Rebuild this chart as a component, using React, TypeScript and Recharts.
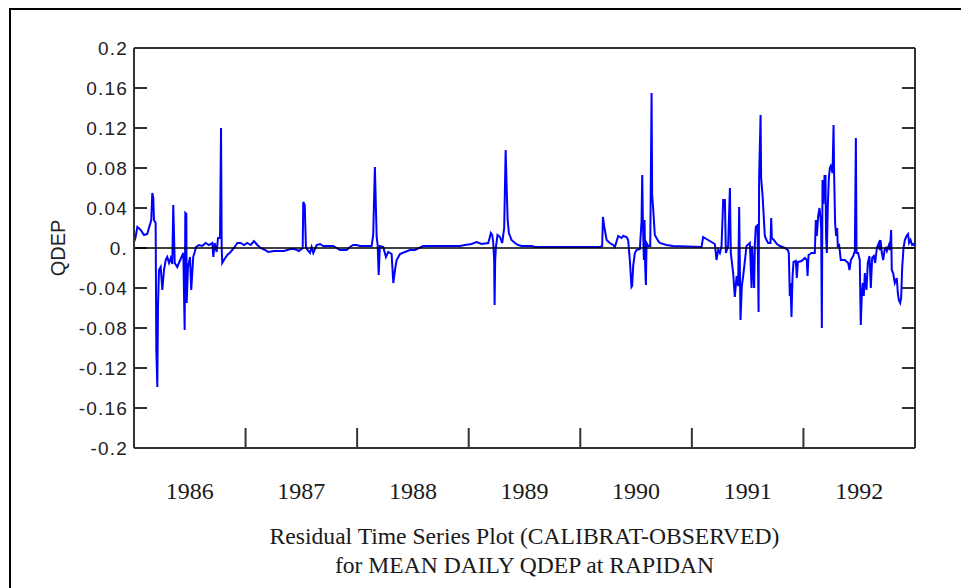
import React from 'react';
import { LineChart, Line, XAxis, YAxis, ReferenceLine } from 'recharts';

// residual (CALIBRAT - OBSERVED), [decimal year, QDEP]
const res1986: [number, number][] = [
  [1986.0, 0.006], [1986.013, 0.01], [1986.03, 0.021], [1986.06, 0.018], [1986.09, 0.013],
  [1986.119, 0.014], [1986.134, 0.02], [1986.155, 0.028], [1986.164, 0.055], [1986.173, 0.05],
  [1986.179, 0.028], [1986.194, 0.025], [1986.2, -0.102], [1986.209, -0.139], [1986.215, -0.059],
  [1986.224, -0.022], [1986.239, -0.019], [1986.254, -0.042], [1986.269, -0.022], [1986.284, -0.012],
  [1986.298, -0.009], [1986.314, -0.015], [1986.329, -0.01], [1986.343, -0.016], [1986.352, 0.043],
  [1986.358, 0.016], [1986.365, -0.015], [1986.388, -0.019], [1986.418, -0.011], [1986.442, -0.005],
  [1986.454, -0.082], [1986.46, 0.035], [1986.469, 0.034], [1986.472, -0.055], [1986.484, -0.019],
  [1986.502, -0.009], [1986.513, -0.042], [1986.531, -0.009], [1986.544, -0.004], [1986.556, 0.001],
  [1986.582, 0.003], [1986.612, 0.002], [1986.642, 0.005], [1986.672, 0.003], [1986.702, 0.005],
  [1986.711, -0.009], [1986.723, 0.005], [1986.741, -0.004], [1986.753, 0.01], [1986.771, 0.01],
  [1986.78, 0.12], [1986.786, 0.0], [1986.791, -0.015], [1986.806, -0.012], [1986.836, -0.007],
  [1986.866, -0.004], [1986.896, 0.0], [1986.926, 0.005], [1986.956, 0.005], [1986.986, 0.003],
];

const res1987: [number, number][] = [
  [1987.015, 0.005], [1987.046, 0.003], [1987.075, 0.007], [1987.105, 0.003], [1987.135, 0.0],
  [1987.174, -0.002], [1987.203, -0.004], [1987.254, -0.003], [1987.344, -0.003], [1987.404, -0.001],
  [1987.434, -0.001], [1987.461, -0.002], [1987.479, -0.003], [1987.512, 0.0], [1987.517, 0.046],
  [1987.53, 0.043], [1987.541, 0.001], [1987.562, -0.003], [1987.577, -0.005], [1987.592, 0.001],
  [1987.607, -0.005], [1987.637, 0.003], [1987.667, 0.004], [1987.696, 0.002], [1987.786, 0.002],
  [1987.816, 0.0], [1987.846, -0.002], [1987.906, -0.002], [1987.935, 0.001], [1987.965, 0.003],
  [1987.995, 0.003],
];

const res1988: [number, number][] = [
  [1988.025, 0.002], [1988.13, 0.002], [1988.144, 0.013], [1988.159, 0.081], [1988.175, 0.011],
  [1988.184, 0.003], [1988.193, -0.027], [1988.204, 0.002], [1988.234, 0.001], [1988.258, -0.009],
  [1988.279, -0.004], [1988.309, -0.006], [1988.324, -0.035], [1988.339, -0.022], [1988.354, -0.012],
  [1988.384, -0.006], [1988.428, -0.004], [1988.473, -0.002], [1988.518, -0.002], [1988.592, 0.002],
  [1988.712, 0.002], [1988.921, 0.002], [1988.966, 0.003],
];

const res1989: [number, number][] = [
  [1989.026, 0.004], [1989.071, 0.006], [1989.116, 0.004], [1989.175, 0.005], [1989.199, 0.015],
  [1989.211, 0.013], [1989.22, 0.005], [1989.228, -0.012], [1989.232, -0.057], [1989.237, -0.013],
  [1989.244, 0.001], [1989.258, 0.013], [1989.28, 0.011], [1989.3, 0.005], [1989.318, 0.02],
  [1989.331, 0.098], [1989.34, 0.061], [1989.349, 0.028], [1989.36, 0.015], [1989.384, 0.008],
  [1989.414, 0.005], [1989.444, 0.003], [1989.474, 0.002], [1989.564, 0.002], [1989.593, 0.001],
  [1989.746, 0.001], [1989.862, 0.001],
];

const res1990: [number, number][] = [
  [1990.104, 0.001], [1990.176, 0.001], [1990.196, 0.002], [1990.203, 0.031], [1990.214, 0.022],
  [1990.236, 0.008], [1990.265, 0.005], [1990.295, 0.003], [1990.31, 0.001], [1990.34, 0.012],
  [1990.37, 0.01], [1990.384, 0.012], [1990.415, 0.011], [1990.429, 0.008], [1990.444, -0.012],
  [1990.459, -0.039], [1990.465, -0.038], [1990.474, -0.018], [1990.489, -0.005], [1990.504, -0.002],
  [1990.534, -0.001], [1990.549, 0.027], [1990.555, 0.073], [1990.561, 0.028], [1990.57, -0.012],
  [1990.576, 0.028], [1990.582, -0.02], [1990.588, -0.037], [1990.594, 0.005], [1990.609, 0.002],
  [1990.627, 0.002], [1990.639, 0.155], [1990.644, 0.053], [1990.653, 0.04], [1990.668, 0.013],
  [1990.698, 0.007], [1990.713, 0.005], [1990.773, 0.003], [1990.832, 0.002],
];

const res1991: [number, number][] = [
  [1991.087, 0.001], [1991.101, 0.011], [1991.146, 0.008], [1991.191, 0.005], [1991.206, 0.004],
  [1991.221, -0.012], [1991.236, -0.002], [1991.251, -0.005], [1991.266, 0.002], [1991.281, 0.048],
  [1991.296, 0.048], [1991.305, -0.005], [1991.325, 0.002], [1991.341, 0.06], [1991.349, -0.005],
  [1991.37, -0.025], [1991.385, -0.049], [1991.401, -0.028], [1991.415, -0.038], [1991.424, 0.041],
  [1991.436, -0.072], [1991.448, -0.038], [1991.46, -0.028], [1991.49, 0.002], [1991.52, 0.005],
  [1991.535, -0.04], [1991.54, 0.002], [1991.558, -0.04], [1991.565, 0.005], [1991.573, 0.021],
  [1991.589, 0.023], [1991.598, -0.064], [1991.603, 0.071], [1991.616, 0.133], [1991.621, 0.07],
  [1991.634, 0.052], [1991.654, 0.012], [1991.669, 0.008], [1991.684, 0.005], [1991.705, 0.005],
  [1991.711, 0.03], [1991.717, 0.01], [1991.735, 0.008], [1991.762, 0.004], [1991.789, 0.002],
  [1991.833, 0.0], [1991.86, -0.002], [1991.869, -0.005], [1991.878, -0.048], [1991.884, -0.035],
  [1991.893, -0.069], [1991.902, -0.03], [1991.911, -0.014], [1991.932, -0.013], [1991.941, -0.03],
  [1991.95, -0.014], [1991.983, -0.013],
];

const res1992: [number, number][] = [
  [1992.013, -0.01], [1992.03, -0.012], [1992.037, -0.028], [1992.046, -0.007], [1992.073, -0.005],
  [1992.102, -0.005], [1992.111, 0.028], [1992.12, 0.012], [1992.132, 0.032], [1992.144, 0.04],
  [1992.153, 0.03], [1992.159, 0.02], [1992.165, -0.08], [1992.171, 0.068], [1992.18, 0.044],
  [1992.189, 0.072], [1992.198, 0.072], [1992.203, 0.01], [1992.21, -0.005], [1992.219, 0.044],
  [1992.228, 0.07], [1992.237, 0.08], [1992.245, 0.082], [1992.261, 0.075], [1992.27, 0.123],
  [1992.275, 0.075], [1992.284, 0.025], [1992.293, 0.012], [1992.302, 0.02], [1992.308, 0.002],
  [1992.32, 0.003], [1992.335, -0.012], [1992.371, -0.012], [1992.401, -0.015], [1992.413, -0.022],
  [1992.425, -0.012], [1992.446, -0.008], [1992.461, -0.003], [1992.47, 0.11], [1992.476, -0.005],
  [1992.49, -0.005], [1992.505, -0.012], [1992.514, -0.077], [1992.523, -0.047], [1992.532, -0.035],
  [1992.541, -0.048], [1992.55, -0.025], [1992.565, -0.042], [1992.577, -0.015], [1992.592, -0.008],
  [1992.604, -0.04], [1992.616, -0.01], [1992.631, -0.008], [1992.643, -0.015], [1992.658, 0.0],
  [1992.676, 0.005], [1992.685, -0.002], [1992.691, 0.008], [1992.7, -0.003], [1992.715, -0.012],
  [1992.727, -0.002], [1992.739, 0.0], [1992.748, -0.003], [1992.766, 0.003], [1992.775, -0.002],
  [1992.786, 0.018], [1992.792, -0.022], [1992.804, -0.025], [1992.819, -0.035], [1992.837, -0.03],
  [1992.846, -0.045], [1992.855, -0.052], [1992.867, -0.055], [1992.876, -0.05], [1992.885, -0.02],
  [1992.897, 0.0], [1992.909, 0.008], [1992.924, 0.012], [1992.938, 0.014], [1992.947, 0.005],
  [1992.96, 0.008], [1992.974, 0.003], [1992.987, 0.004], [1992.998, 0.002],
];

const yTicks = [0.2, 0.16, 0.12, 0.08, 0.04, 0, -0.04, -0.08, -0.12, -0.16, -0.2];
const yTickLabels = ['0.2', '0.16', '0.12', '0.08', '0.04', '0.', '-0.04', '-0.08', '-0.12', '-0.16', '-0.2'];
const yearBreaks = [1987, 1988, 1989, 1990, 1991, 1992];
const yearLabels = [1986, 1987, 1988, 1989, 1990, 1991, 1992];

const data = [...res1986, ...res1987, ...res1988, ...res1989, ...res1990, ...res1991, ...res1992].map(
  ([t, v]) => ({ t, v })
);

const xTicks = [...yearLabels.map((y) => y + 0.5), ...yearBreaks].sort((a, b) => a - b);

const axisColor = '#333';

const LeftTick = (props: any) => {
  const { x, y, payload } = props;
  const i = yTicks.indexOf(payload.value);
  return (
    <text
      x={x}
      y={y}
      textAnchor="end"
      dominantBaseline="central"
      fontFamily="'Liberation Sans', Arial, sans-serif"
      fontSize={19}
      letterSpacing={1.2}
      fill="#222"
    >
      {yTickLabels[i]}
    </text>
  );
};

// inward tick stubs on both vertical axes
const TickStubs = (props: any) => {
  const x1 = Number(props.x1);
  const x2 = Number(props.x2);
  const y = Number(props.y1);
  return (
    <g>
      <line x1={x1} x2={x1 + 13} y1={y} y2={y} stroke={axisColor} strokeWidth={2} />
      <line x1={x2 - 13} x2={x2} y1={y} y2={y} stroke={axisColor} strokeWidth={2} />
    </g>
  );
};

const BottomTick = (props: any) => {
  const { x, y, payload } = props;
  const v = payload.value;
  if (Number.isInteger(v)) {
    return <line x1={x} x2={x} y1={y} y2={y - 20} stroke={axisColor} strokeWidth={2} />;
  }
  return (
    <text
      x={x}
      y={y + 43}
      textAnchor="middle"
      dominantBaseline="central"
      fontFamily="'Liberation Serif', 'Times New Roman', serif"
      fontSize={24}
      fill="#1a1a1a"
    >
      {Math.floor(v)}
    </text>
  );
};

export default function App() {
  return (
    <div style={{ position: 'absolute', left: 0, top: 0, width: 961, height: 588, overflow: 'hidden', background: '#fff' }}>
      <div
        style={{
          position: 'absolute',
          left: 9,
          top: 8,
          width: 1200,
          height: 1200,
          border: '2px solid #000',
          boxSizing: 'border-box',
        }}
      />
      <LineChart
        width={961}
        height={588}
        data={data}
        margin={{ top: 48, right: 46, bottom: 80, left: 0 }}
        style={{ position: 'absolute', left: 0, top: 0 }}
      >
        <XAxis
          dataKey="t"
          type="number"
          domain={[1986, 1993]}
          ticks={xTicks}
          interval={0}
          tickSize={0}
          tickMargin={0}
          tickLine={false}
          tick={<BottomTick />}
          axisLine={{ stroke: axisColor, strokeWidth: 2 }}
          height={60}
          allowDataOverflow
        />
        <YAxis
          type="number"
          domain={[-0.2, 0.2]}
          ticks={yTicks}
          interval={0}
          tickSize={0}
          tickMargin={6}
          tickLine={false}
          tick={<LeftTick />}
          axisLine={{ stroke: axisColor, strokeWidth: 2 }}
          width={134}
          allowDataOverflow
          label={{
            value: 'QDEP',
            angle: -90,
            position: 'insideLeft',
            offset: 0,
            dx: 58,
            style: { fontFamily: "'Liberation Sans', Arial, sans-serif", fontSize: 20, fill: '#222', textAnchor: 'middle' },
          }}
        />
        {yTicks.map((v) => (
          <ReferenceLine key={`stub-${v}`} y={v} stroke="none" shape={<TickStubs />} />
        ))}
        <ReferenceLine x={1993} stroke={axisColor} strokeWidth={2} />
        <ReferenceLine y={0.2} stroke={axisColor} strokeWidth={2} />
        <Line
          dataKey="v"
          type="linear"
          stroke="#0000ff"
          strokeWidth={2}
          dot={false}
          isAnimationActive={false}
        />
        <ReferenceLine y={0} stroke="#000" strokeWidth={1.5} />
      </LineChart>
      <div
        style={{
          position: 'absolute',
          left: 134,
          width: 781,
          top: 522,
          textAlign: 'center',
          fontFamily: "'Liberation Serif', 'Times New Roman', serif",
          fontSize: 23.6,
          lineHeight: '29px',
          color: '#1a1a1a',
        }}
      >
        <div>Residual Time Series Plot (CALIBRAT-OBSERVED)</div>
        <div>for MEAN DAILY QDEP at RAPIDAN</div>
      </div>
    </div>
  );
}
